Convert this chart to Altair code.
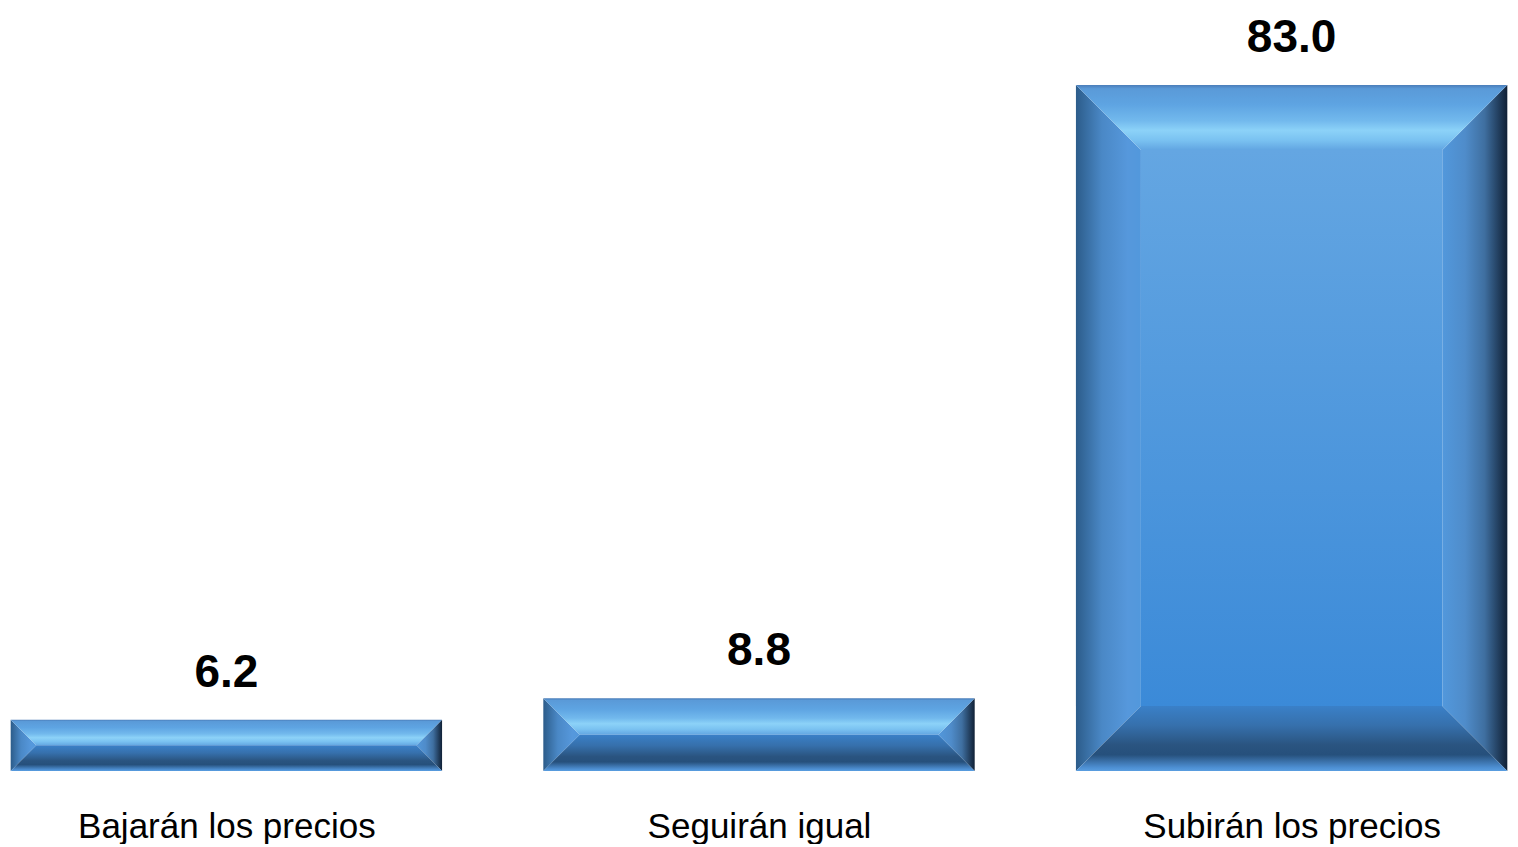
import json
import altair as alt
import pandas as pd

# ---- data ----
categories = ["Bajarán los precios", "Seguirán igual", "Subirán los precios"]
values = [6.2, 8.8, 83.0]

# ---- layout constants (styles, not data) ----
W, H = 1502, 763
X_DOM = [0.09, 2.91]
Y_DOM = [0, 92.3]
G = 0.095                   # half gap between bars (x units)
BEVEL_PX = 65
PPX = W / (X_DOM[1] - X_DOM[0])
PPY = H / (Y_DOM[1] - Y_DOM[0])
FONT = "Liberation Sans Narrow, Arial Narrow, Liberation Sans, Arial, sans-serif"

face_rows, top_rows, bot_rows, left_rows, right_rows, label_rows = [], [], [], [], [], []
for i, (c, v) in enumerate(zip(categories, values)):
    x0, x1 = i + G, i + 1 - G
    iy = min(BEVEL_PX / PPY, v / 2)
    ix = iy * PPY / PPX
    face_rows.append(dict(bar=c, x=x0 + ix, x2=x1 - ix, y=iy, y2=v - iy))
    for xx, yy, yy2 in [(x0, v, v), (x0 + ix, v, v - iy), (x1 - ix, v, v - iy), (x1, v, v)]:
        top_rows.append(dict(bar=c, x=xx, y=yy, y2=yy2))
    for xx, yy, yy2 in [(x0, 0, 0), (x0 + ix, iy, 0), (x1 - ix, iy, 0), (x1, 0, 0)]:
        bot_rows.append(dict(bar=c, x=xx, y=yy, y2=yy2))
    for yy, xx, xx2 in [(0, x0, x0), (iy, x0, x0 + ix), (v - iy, x0, x0 + ix), (v, x0, x0)]:
        left_rows.append(dict(bar=c, y=yy, x=xx, x2=xx2))
    for yy, xx, xx2 in [(0, x1, x1), (iy, x1 - ix, x1), (v - iy, x1 - ix, x1), (v, x1, x1)]:
        right_rows.append(dict(bar=c, y=yy, x=xx, x2=xx2))
    label_rows.append(dict(bar=c, x=i + 0.5, v=v))

xscale = alt.Scale(domain=X_DOM, nice=False, zero=False)
yscale = alt.Scale(domain=Y_DOM, nice=False)
label_expr = json.dumps(categories, ensure_ascii=False) + "[round(datum.value - 0.5)]"
xaxis = alt.Axis(values=[0.5, 1.5, 2.5], labelExpr=label_expr, labelFontSize=35,
                 labelFont=FONT, labelColor="black", domain=False, ticks=False,
                 grid=False, labelPadding=38, title=None, labelAngle=0, labelLimit=0)

def vgrad(stops):
    return alt.Gradient(gradient="linear", x1=0, x2=0, y1=0, y2=1,
                        stops=[alt.GradientStop(offset=o, color=c) for o, c in stops])

def hgrad(stops):
    return alt.Gradient(gradient="linear", x1=0, x2=1, y1=0, y2=0,
                        stops=[alt.GradientStop(offset=o, color=c) for o, c in stops])

face = alt.Chart(pd.DataFrame(face_rows)).mark_rect(
    color=vgrad([(0, "#64a6e2"), (1, "#3b8ad8")])
).encode(
    x=alt.X("x:Q", scale=xscale, axis=xaxis),
    x2="x2:Q",
    y=alt.Y("y:Q", scale=yscale, axis=None),
    y2="y2:Q",
)

top = alt.Chart(pd.DataFrame(top_rows)).mark_area(
    color=vgrad([(0, "#4a7cb8"), (0.06, "#5a9ad8"), (0.3, "#5ea4e2"),
                 (0.55, "#72b9ed"), (0.7, "#8cd2f8"), (0.85, "#7ac2f1"), (1, "#62a6e2")])
).encode(
    x=alt.X("x:Q", scale=xscale, axis=xaxis),
    y=alt.Y("y:Q", scale=yscale, axis=None, stack=None),
    y2="y2:Q",
    detail="bar:N",
)

bottom = alt.Chart(pd.DataFrame(bot_rows)).mark_area(
    color=vgrad([(0, "#3a80c8"), (0.3, "#3670ac"), (0.6, "#2a5480"),
                 (0.75, "#26507c"), (0.85, "#3a70a8"), (0.95, "#4e90d4"), (1, "#5a9ee0")])
).encode(
    x=alt.X("x:Q", scale=xscale, axis=xaxis),
    y=alt.Y("y:Q", scale=yscale, axis=None, stack=None),
    y2="y2:Q",
    detail="bar:N",
)

left = alt.Chart(pd.DataFrame(left_rows)).mark_area(
    orient="horizontal",
    color=hgrad([(0, "#2c5c8a"), (0.4, "#4a88c6"), (0.8, "#5698dc"), (1, "#5298dc")])
).encode(
    y=alt.Y("y:Q", scale=yscale, axis=None),
    x=alt.X("x:Q", scale=xscale, axis=xaxis, stack=None),
    x2="x2:Q",
    detail="bar:N",
)

right = alt.Chart(pd.DataFrame(right_rows)).mark_area(
    orient="horizontal",
    color=hgrad([(0, "#5298dc"), (0.35, "#4f8cca"), (0.65, "#3f6fa0"), (1, "#102035")])
).encode(
    y=alt.Y("y:Q", scale=yscale, axis=None),
    x=alt.X("x:Q", scale=xscale, axis=xaxis, stack=None),
    x2="x2:Q",
    detail="bar:N",
)

labels = alt.Chart(pd.DataFrame(label_rows)).mark_text(
    font=FONT, fontSize=46, fontWeight="bold", color="black",
    baseline="alphabetic", align="center", dy=-33
).encode(
    x=alt.X("x:Q", scale=xscale, axis=xaxis),
    y=alt.Y("v:Q", scale=yscale, axis=None),
    text=alt.Text("v:Q", format=".1f"),
)

chart = alt.layer(face, left, right, top, bottom, labels).properties(
    width=W, height=H, padding=0, background="white"
).configure_view(strokeWidth=0, stroke="transparent")

chart.save("out.html", embed_options={"renderer": "svg", "actions": False})
